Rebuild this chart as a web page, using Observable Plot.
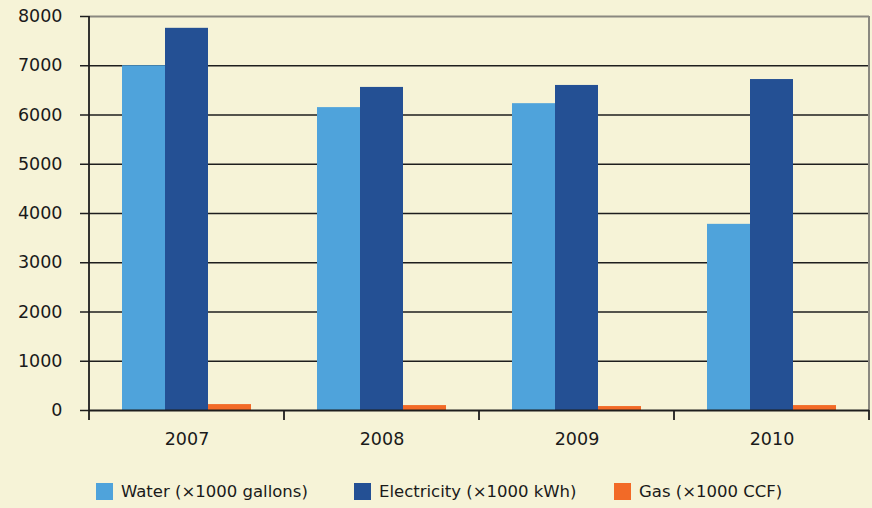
<!DOCTYPE html>
<html>
<head>
<meta charset="utf-8">
<script src="https://cdn.jsdelivr.net/npm/d3@7"></script>
<script src="https://cdn.jsdelivr.net/npm/@observablehq/plot@0.6"></script>
<style>
  html, body { margin: 0; padding: 0; background: #F6F3D7; }
  body { width: 872px; height: 508px; position: relative; overflow: hidden; font-family: "DejaVu Sans", sans-serif; }
  #chart { position: absolute; left: 0; top: 0; }
  #legend { position: absolute; left: 0; top: 482px; width: 872px; height: 20px; font-size: 16.5px; color: #1a1a1a; }
  .item { position: absolute; top: 0; display: flex; align-items: center; height: 18px; }
  .sw { width: 17px; height: 17px; margin-right: 8px; }
</style>
</head>
<body>
<div id="chart"></div>
<div id="legend"></div>
<script>
const years = ["2007", "2008", "2009", "2010"];
const seriesNames = ["Water (×1000 gallons)", "Electricity (×1000 kWh)", "Gas (×1000 CCF)"];
const seriesColors = ["#4FA3DB", "#245094", "#F26A27"];
const water = [7000, 6150, 6230, 3780];
const electricity = [7760, 6560, 6600, 6720];
const gas = [120, 100, 80, 100];
const yTicks = [0, 1000, 2000, 3000, 4000, 5000, 6000, 7000, 8000];
const legendLeft = [96, 354, 614];

const values = [water, electricity, gas];
const data = [];
years.forEach((yr, i) => seriesNames.forEach((s, j) => data.push({year: yr, series: s, value: values[j][i]})));

const W = 872, H = 460, mL = 88, mR = 3, mT = 16, mB = 50;

const plot = Plot.plot({
  width: W, height: H,
  marginLeft: mL, marginRight: mR, marginTop: mT, marginBottom: mB,
  style: { background: "transparent", fontFamily: "'DejaVu Sans', sans-serif", fontSize: "17px", color: "#1a1a1a" },
  fx: { domain: years, padding: 0, label: null, axis: null },
  x: { domain: seriesNames, paddingInner: 0, paddingOuter: 0.75, axis: null },
  y: { domain: [0, 8000], label: null, axis: null },
  color: { domain: seriesNames, range: seriesColors },
  marks: [
    Plot.ruleY(yTicks.filter(d => d > 0 && d < 8000), { stroke: "#1e1e1e", strokeWidth: 1.3 }),
    Plot.barY(data, { fx: "year", x: "series", y: "value", fill: "series" }),
    Plot.axisY({ ticks: yTicks, tickSize: 9, tickPadding: 18, fontSize: 17.5, stroke: "#1e1e1e", strokeWidth: 1.5, tickFormat: d => String(d) }),
    Plot.axisFx({ anchor: "bottom", tickSize: 0, tickPadding: 22, fontSize: 17.5, label: null })
  ]
});
document.getElementById("chart").appendChild(plot);

// Frame lines, baseline, axis line and category boundary ticks, positioned via Plot's own scales
const fx = plot.scale("fx"), y = plot.scale("y");
const svg = d3.select(plot);
const x0 = fx.apply(years[0]);
const xEnd = fx.apply(years[years.length - 1]) + fx.bandwidth;
const yTop = y.apply(8000), y0 = y.apply(0);
const g = svg.append("g");
g.append("line").attr("x1", x0).attr("x2", xEnd).attr("y1", yTop + 0.5).attr("y2", yTop + 0.5).attr("stroke", "#8a8880").attr("stroke-width", 2);
g.append("line").attr("x1", xEnd).attr("x2", xEnd).attr("y1", yTop).attr("y2", y0).attr("stroke", "#8a8880").attr("stroke-width", 2);
g.append("line").attr("x1", x0).attr("x2", xEnd).attr("y1", y0 + 0.5).attr("y2", y0 + 0.5).attr("stroke", "#1e1e1e").attr("stroke-width", 1.8);
g.append("line").attr("x1", x0).attr("x2", x0).attr("y1", yTop).attr("y2", y0 + 10).attr("stroke", "#1e1e1e").attr("stroke-width", 1.8);
years.forEach(yr => {
  const xb = fx.apply(yr) + fx.bandwidth;
  g.append("line").attr("x1", xb).attr("x2", xb).attr("y1", y0).attr("y2", y0 + 10).attr("stroke", "#1e1e1e").attr("stroke-width", 1.8);
});

const legend = document.getElementById("legend");
seriesNames.forEach((s, i) => {
  const it = document.createElement("div");
  it.className = "item";
  it.style.left = legendLeft[i] + "px";
  it.innerHTML = `<div class="sw" style="background:${seriesColors[i]}"></div><span>${s}</span>`;
  legend.appendChild(it);
});
</script>
</body>
</html>
